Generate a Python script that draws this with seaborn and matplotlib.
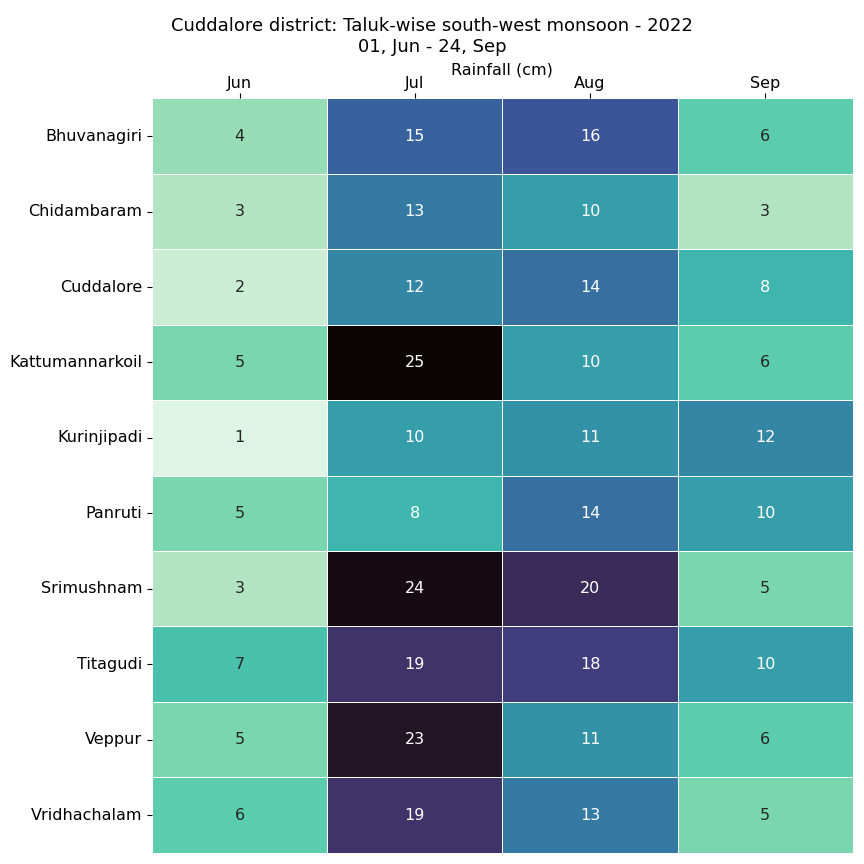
import pandas as pd
import numpy as np
import matplotlib
matplotlib.use('Agg')
import matplotlib.pyplot as plt
import seaborn as sns

# Data
taluks = ['Bhuvanagiri', 'Chidambaram', 'Cuddalore', 'Kattumannarkoil', 'Kurinjipadi',
          'Panruti', 'Srimushnam', 'Titagudi', 'Veppur', 'Vridhachalam']
months = ['Jun', 'Jul', 'Aug', 'Sep']
jun = [4, 3, 2, 5, 1, 5, 3, 7, 5, 6]
jul = [15, 13, 12, 25, 10, 8, 24, 19, 23, 19]
aug = [16, 10, 14, 10, 11, 14, 20, 18, 11, 13]
sep = [6, 3, 8, 6, 12, 10, 5, 10, 6, 5]

df = pd.DataFrame({'Jun': jun, 'Jul': jul, 'Aug': aug, 'Sep': sep}, index=taluks)

fig, ax = plt.subplots(figsize=(8.64, 8.64), dpi=100)
sns.heatmap(df, cmap='mako_r', annot=True, fmt='d', linewidths=0.5,
            linecolor='white', cbar=False, ax=ax, annot_kws={'size': 11.5})

ax.xaxis.tick_top()
ax.xaxis.set_label_position('top')
ax.set_xlabel('Rainfall (cm)', fontsize=11.5, labelpad=1)
ax.set_ylabel('')
ax.tick_params(axis='both', labelsize=11.5)
ax.tick_params(axis='x', pad=2)
plt.setp(ax.get_yticklabels(), rotation=0)
plt.setp(ax.get_xticklabels(), rotation=0)

fig.suptitle('Cuddalore district: Taluk-wise south-west monsoon - 2022\n01, Jun - 24, Sep',
             fontsize=13, y=0.98)
plt.subplots_adjust(left=0.176, right=0.987, top=0.886, bottom=0.013)
plt.savefig('out.png', dpi=100)
plt.close()
